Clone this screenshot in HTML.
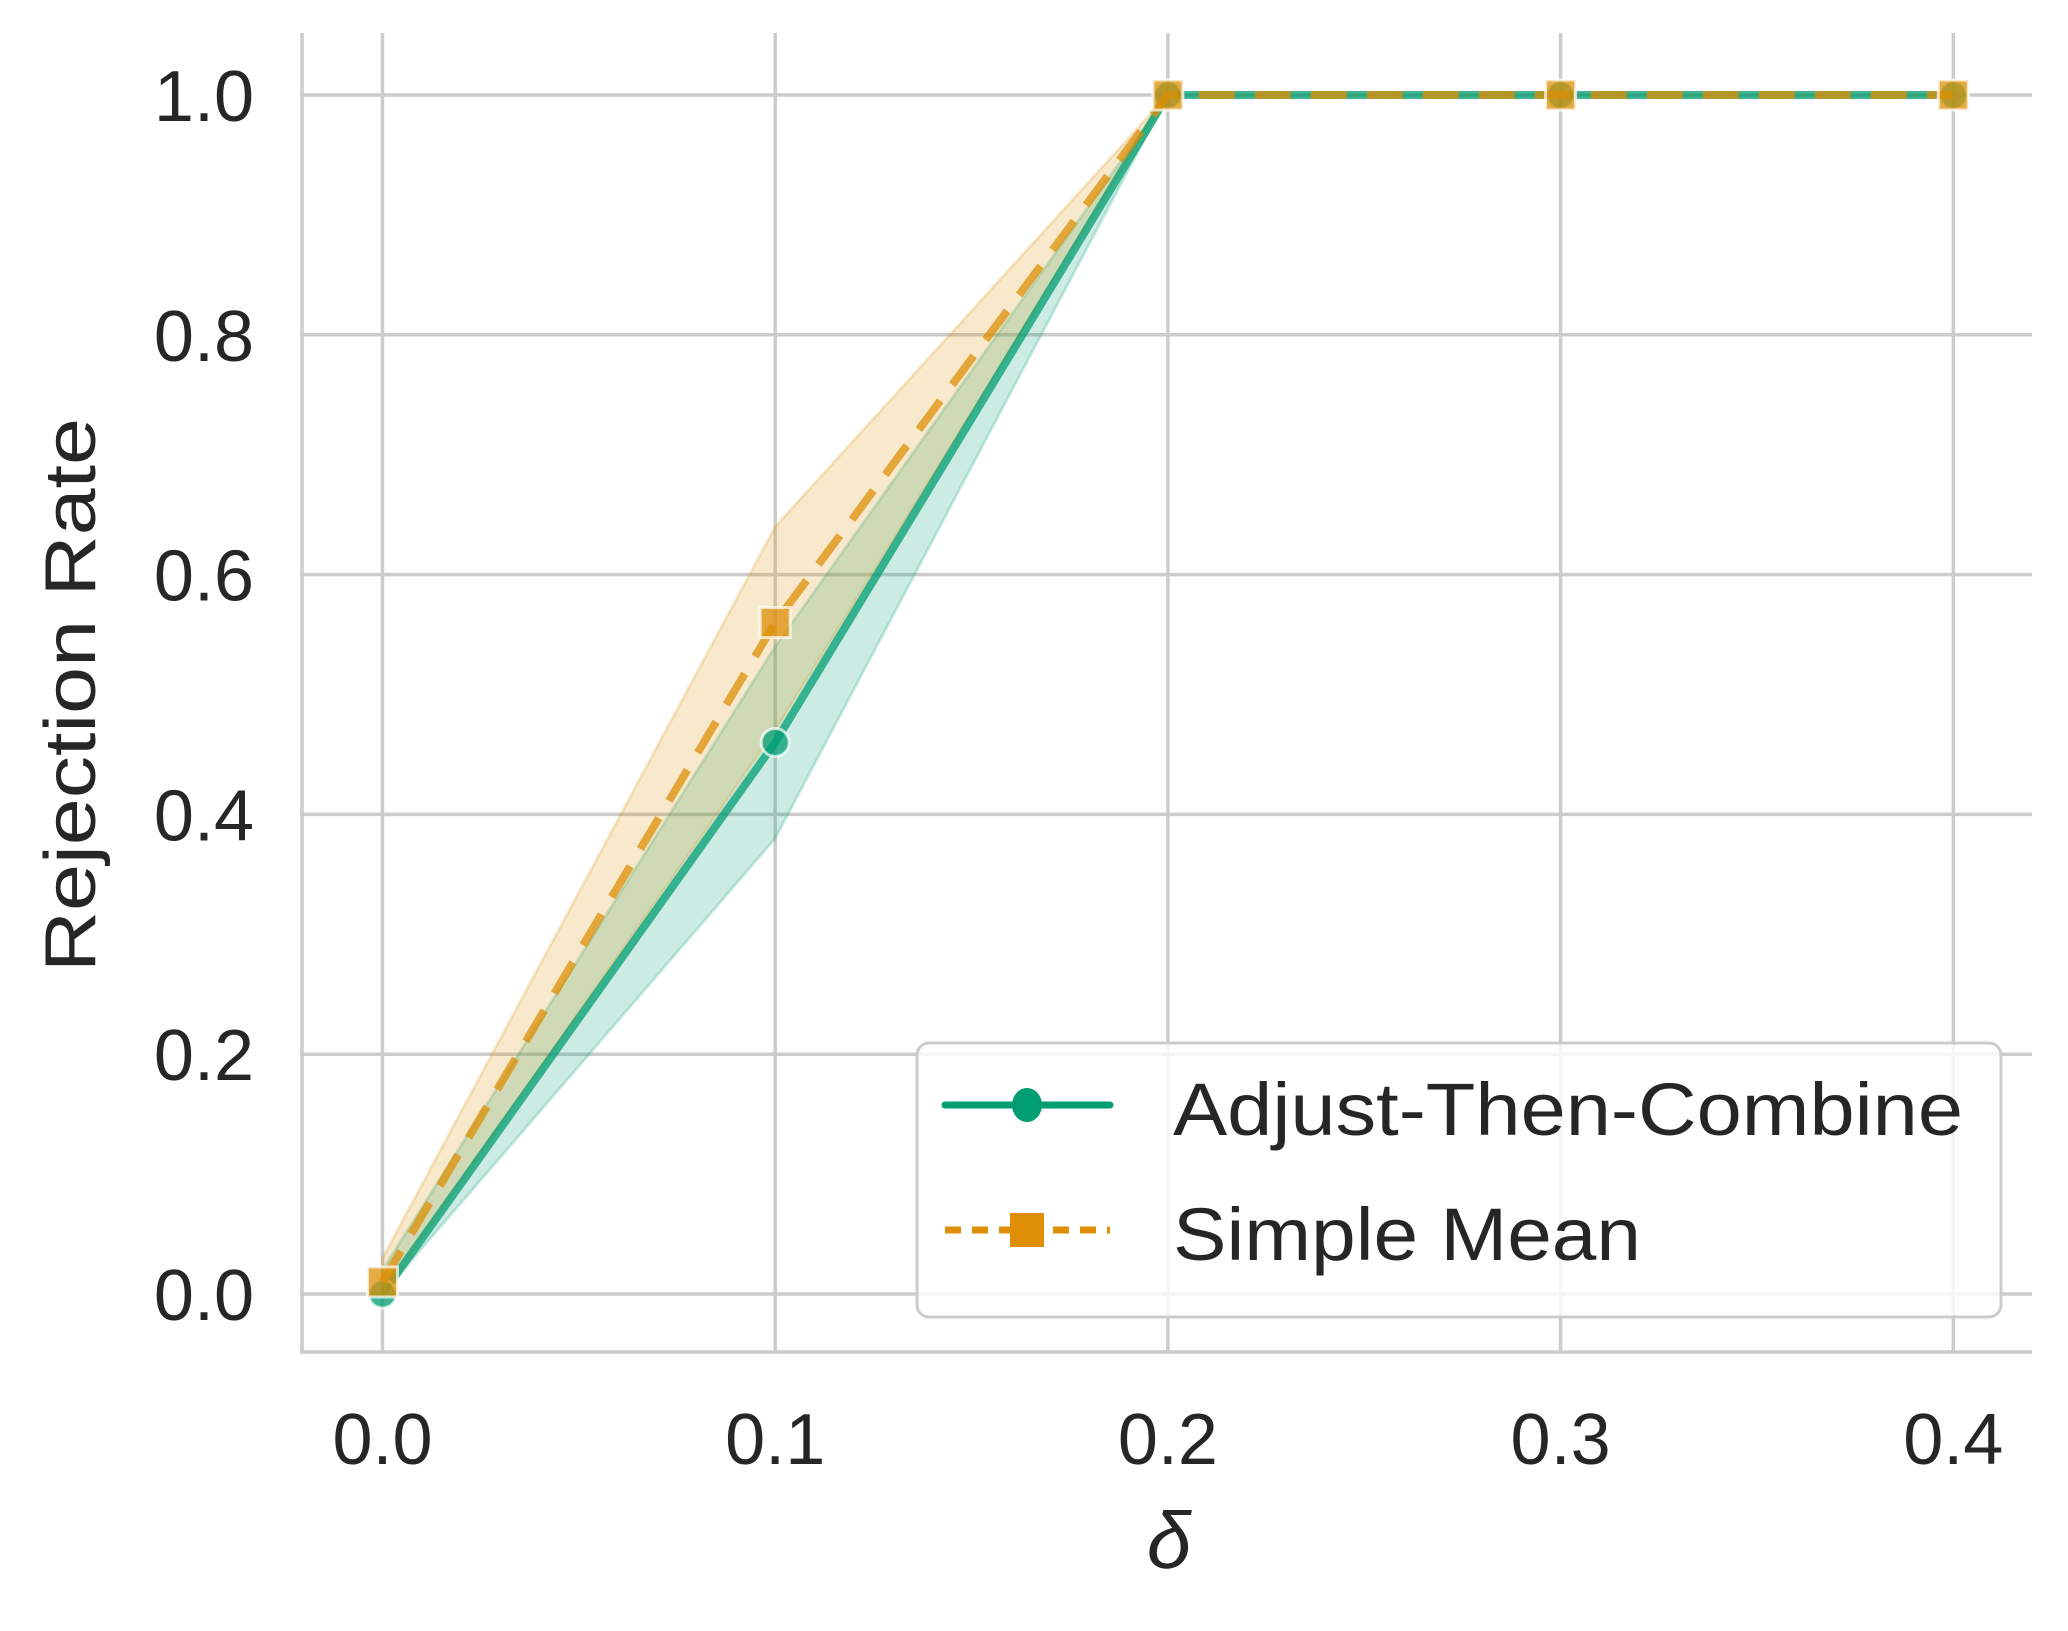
<!DOCTYPE html>
<html><head><meta charset="utf-8"><style>
body{margin:0;background:#fff}
svg{display:block}
text{font-family:"Liberation Sans",sans-serif;fill:#262626}
</style></head><body>
<svg id="chart" width="2068" height="1631" viewBox="0 0 2068 1631" xmlns="http://www.w3.org/2000/svg">
<g id="grid"></g>
<g id="bands"></g>
<g id="lines"></g>
<g id="axes"></g>
<text transform="translate(95,695) rotate(-90)" text-anchor="middle" font-size="72" textLength="554" lengthAdjust="spacingAndGlyphs">Rejection Rate</text>
<text x="1169" y="1568" text-anchor="middle" font-size="80" font-style="italic">δ</text>
<g>
<rect x="917" y="1043" width="1084" height="274" rx="12" fill="#fff" fill-opacity="0.8" stroke="#ccc" stroke-width="3"/>
<g>
<line x1="945" y1="1105" x2="1110" y2="1105" stroke="#029e73" stroke-width="7" stroke-linecap="round"/>
<ellipse cx="1027" cy="1105" rx="15" ry="17" fill="#029e73"/>
<text x="1173" y="1135" font-size="74" textLength="790" lengthAdjust="spacingAndGlyphs">Adjust-Then-Combine</text>
</g>
<g>
<line x1="945" y1="1230" x2="1110" y2="1230" stroke="#de8f05" stroke-width="7" stroke-dasharray="16,11"/>
<rect x="1010" y="1213" width="34" height="34" fill="#de8f05"/>
<text x="1173" y="1260" font-size="74" textLength="468" lengthAdjust="spacingAndGlyphs">Simple Mean</text>
</g>
</g>
</svg>
<script>
const xValues = [0.0, 0.1, 0.2, 0.3, 0.4];
const atcMean = [0.0, 0.46, 1.0, 1.0, 1.0];
const atcLow = [0.0, 0.38, 1.0, 1.0, 1.0];
const atcHigh = [0.02, 0.54, 1.0, 1.0, 1.0];
const smMean = [0.01, 0.56, 1.0, 1.0, 1.0];
const smLow = [0.0, 0.47, 1.0, 1.0, 1.0];
const smHigh = [0.03, 0.64, 1.0, 1.0, 1.0];
const xTicks = ["0.0", "0.1", "0.2", "0.3", "0.4"];
const yTicks = ["0.0", "0.2", "0.4", "0.6", "0.8", "1.0"];

const NS = "http://www.w3.org/2000/svg";
const X = v => 382.5 + v * 3927;
const Y = v => 1294 - v * 1199;
function mk(parent, tag, attrs){const e=document.createElementNS(NS,tag);for(const k in attrs)e.setAttribute(k,attrs[k]);document.getElementById(parent).appendChild(e);return e;}

xTicks.forEach(t=>{
  const v=parseFloat(t);
  const g=mk('grid','line',{x1:X(v),x2:X(v),y1:33,y2:1352,stroke:'#cccccc','stroke-width':3.5});
  
  
  const tx=mk('axes','text',{x:X(v),y:1464,'text-anchor':'middle','font-size':72});
  
  
  tx.textContent=t;
});
yTicks.forEach(t=>{
  const v=parseFloat(t);
  const g=mk('grid','line',{x1:302,x2:2032,y1:Y(v),y2:Y(v),stroke:'#cccccc','stroke-width':3.5});
  
  
  const tx=mk('axes','text',{x:254,y:Y(v)+26,'text-anchor':'end','font-size':72});
  
  
  tx.textContent=t;
});
const ls=mk('axes','line',{x1:302,x2:302,y1:33,y2:1353.5,stroke:'#cccccc','stroke-width':3.5});


const bs=mk('axes','line',{x1:300,x2:2032,y1:1352,y2:1352,stroke:'#cccccc','stroke-width':3.5});



function band(low,high,color,name){
  let d='';
  xValues.forEach((x,i)=>{d+=(i?'L':'M')+X(x)+','+Y(high[i]);});
  for(let i=xValues.length-1;i>=0;i--)d+='L'+X(xValues[i])+','+Y(low[i]);
  const p=mk('bands','path',{d:d+'Z',fill:color,'fill-opacity':0.2,stroke:color,'stroke-opacity':0.2,'stroke-width':3});
  
  
}
band(atcLow,atcHigh,'#029e73','atc-confidence-band');
band(smLow,smHigh,'#de8f05','simple-mean-confidence-band');

function series(mean,color,dash,name,marker){
  const pts=xValues.map((x,i)=>X(x)+','+Y(mean[i])).join(' ');
  const attrs={points:pts,fill:'none',stroke:color,'stroke-opacity':0.75,'stroke-width':8};
  if(dash)attrs['stroke-dasharray']=dash;
  const l=mk('lines','polyline',attrs);
  
  
  xValues.forEach((x,i)=>{
    let m;
    if(marker==='circle') m=mk('lines','circle',{cx:X(x),cy:Y(mean[i]),r:14,fill:color,'fill-opacity':0.75,stroke:'#fff','stroke-opacity':0.7,'stroke-width':3});
    else m=mk('lines','rect',{x:X(x)-15,y:Y(mean[i])-15,width:30,height:30,fill:color,'fill-opacity':0.75,stroke:'#fff','stroke-opacity':0.7,'stroke-width':3});
    
    
  });
}
series(atcMean,'#029e73',null,'adjust-then-combine','circle');
series(smMean,'#de8f05','36,20','simple-mean','square');
</script>
</body></html>
